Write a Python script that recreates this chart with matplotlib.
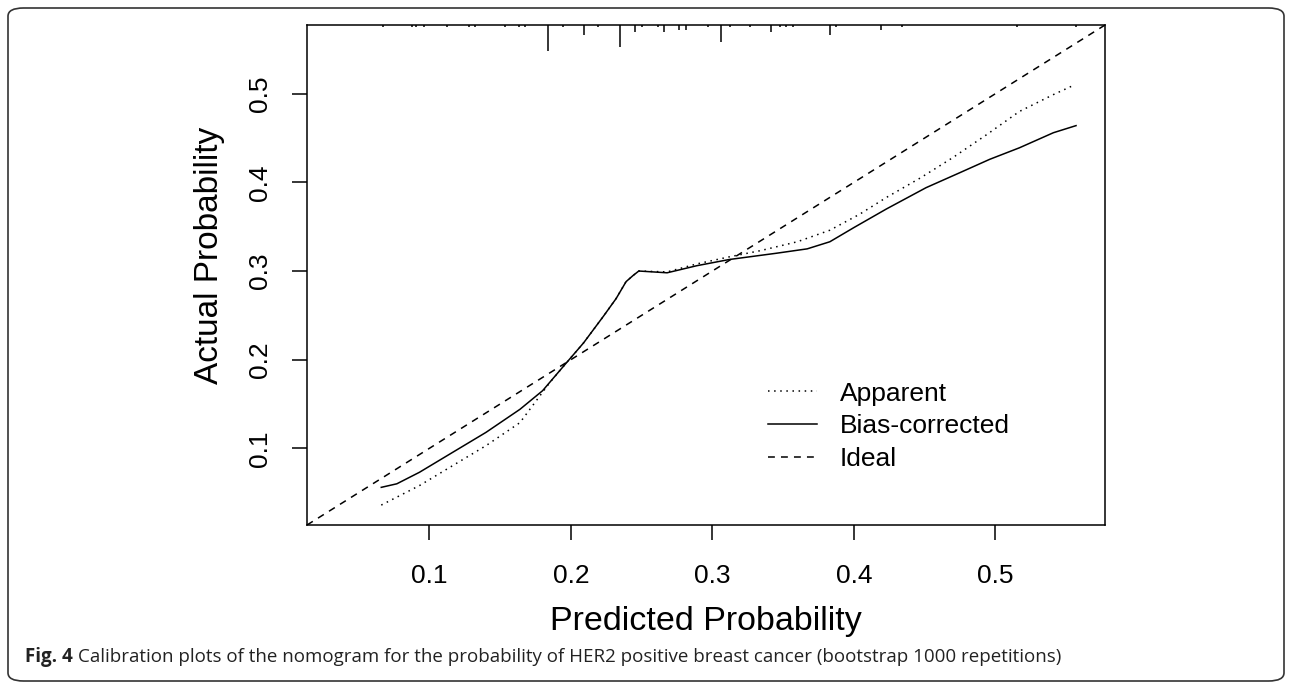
import matplotlib.pyplot as plt
from matplotlib.patches import FancyBboxPatch

# curves
apparent_x = [0.066, 0.093, 0.117, 0.140, 0.164, 0.185, 0.195, 0.209, 0.223, 0.232, 0.239, 0.244, 0.248,
              0.268, 0.289, 0.312, 0.334, 0.360, 0.383, 0.404, 0.423, 0.447, 0.470, 0.494, 0.517, 0.541, 0.556]
apparent_y = [0.036, 0.058, 0.081, 0.103, 0.129, 0.174, 0.193, 0.219, 0.249, 0.269, 0.288, 0.295, 0.300,
              0.299, 0.308, 0.316, 0.323, 0.333, 0.346, 0.364, 0.383, 0.405, 0.428, 0.454, 0.480, 0.499, 0.510]

bias_x = [0.066, 0.077, 0.093, 0.117, 0.140, 0.164, 0.180, 0.195, 0.209, 0.223, 0.232, 0.239, 0.244, 0.248,
          0.268, 0.289, 0.312, 0.345, 0.367, 0.383, 0.400, 0.423, 0.451, 0.475, 0.496, 0.517, 0.541, 0.557]
bias_y = [0.056, 0.060, 0.073, 0.096, 0.118, 0.144, 0.165, 0.193, 0.219, 0.249, 0.269, 0.288, 0.295, 0.300,
          0.298, 0.306, 0.313, 0.320, 0.325, 0.333, 0.349, 0.370, 0.394, 0.411, 0.426, 0.439, 0.456, 0.464]

# spike histogram of predicted probabilities along the top
rug_x = [0.067, 0.0875, 0.0906, 0.0965, 0.1122, 0.1278, 0.1323, 0.1537, 0.1636, 0.1679, 0.1837, 0.1943,
         0.2096, 0.2190, 0.2349, 0.2450, 0.2504, 0.2615, 0.2657, 0.2763, 0.2811, 0.2969, 0.3063, 0.3122,
         0.3263, 0.3417, 0.3475, 0.3518, 0.3569, 0.3834, 0.3876, 0.4194, 0.4343, 0.5151, 0.5569]
rug_n = [1, 1, 1, 1, 1, 1, 1, 1, 1, 1, 11, 1,
         4, 1, 9, 3, 1, 1, 3, 2, 2, 1, 7, 1,
         1, 3, 1, 1, 1, 4, 1, 2, 1, 1, 1]

ticks = [0.1, 0.2, 0.3, 0.4, 0.5]
tick_labels = ["0.1", "0.2", "0.3", "0.4", "0.5"]
lims = (0.0135, 0.5775)

plt.rcParams['font.family'] = ['Liberation Sans', 'DejaVu Sans']

fig = plt.figure(figsize=(12.92, 6.83), dpi=100)
ax = fig.add_axes([0.2376, 0.2313, 0.6177, 0.7321])

ax.plot(apparent_x, apparent_y, color="black", lw=1.1, ls=(0, (1, 3)), label="Apparent")
ax.plot(bias_x, bias_y, color="black", lw=1.1, ls="-", label="Bias-corrected")
ax.axline((0, 0), slope=1, color="black", lw=1.1, ls=(0, (4.5, 4)), label="Ideal")

ax.vlines(rug_x, [1 - n * 0.0048 for n in rug_n], 1, color="black", lw=1.1,
          transform=ax.get_xaxis_transform())

ax.set_xlim(lims)
ax.set_ylim(lims)
ax.set_xticks(ticks, tick_labels)
ax.set_yticks(ticks, tick_labels)
ax.tick_params(length=11, width=1.1, labelsize=19, direction="out")
ax.tick_params(axis="x", pad=17)
ax.tick_params(axis="y", pad=14, labelrotation=90)
for t in ax.get_yticklabels():
    t.set_va("center")
for s in ax.spines.values():
    s.set_linewidth(1.1)

ax.set_xlabel("Predicted Probability", fontsize=24.5, labelpad=13)
ax.set_ylabel("Actual Probability", fontsize=24)
ax.yaxis.set_label_coords(-0.103, 0.539)

ax.legend(loc="upper left", bbox_to_anchor=(0.5777, 0.287), frameon=False, fontsize=19,
          handlelength=1.85, handletextpad=0.87, labelspacing=0.34, borderpad=0, borderaxespad=0)

# outer frame and caption
fig.patches.append(FancyBboxPatch((8 / 1292, 2 / 683), 1276 / 1292, 673 / 683,
                                  boxstyle="round,pad=0,rounding_size=0.012",
                                  transform=fig.transFigure, fill=False, ec="#333333", lw=1.2))
t1 = fig.text(25 / 1292, 26 / 683, "Fig. 4", fontsize=13.5, fontweight="bold",
              family=["Open Sans", "DejaVu Sans"], va="center", color="#222222")
fig.canvas.draw()
bb = t1.get_window_extent()
fig.text((bb.x1 + 5) / 1292, 26 / 683,
         "Calibration plots of the nomogram for the probability of HER2 positive breast cancer (bootstrap 1000 repetitions)",
         fontsize=13.5, family=["Open Sans", "DejaVu Sans"], va="center", color="#222222")

fig.savefig("out.png", dpi=100)
